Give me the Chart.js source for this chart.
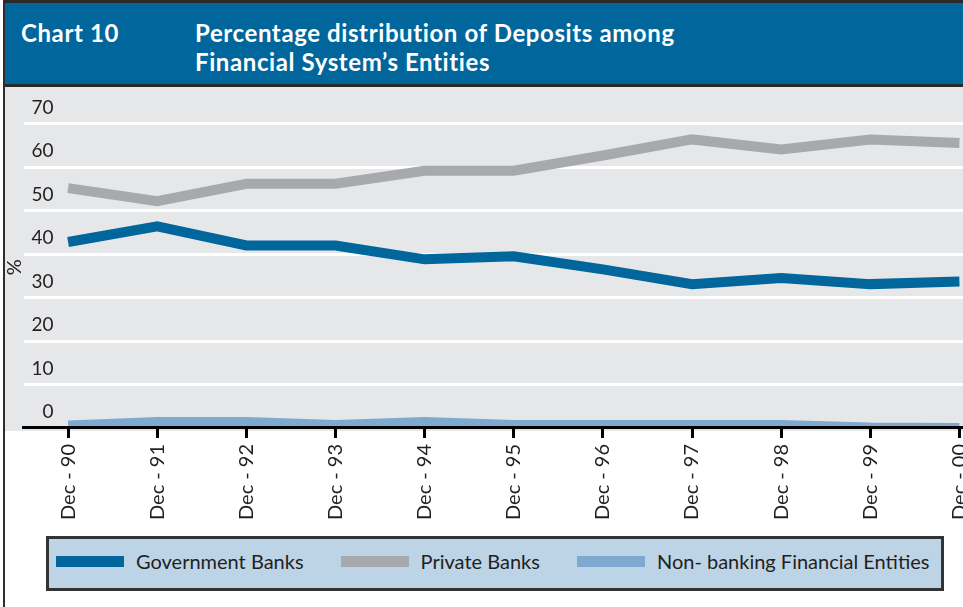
<!DOCTYPE html>
<html>
<head>
<meta charset="utf-8">
<title>Chart 10</title>
<script src="https://cdn.jsdelivr.net/npm/chart.js"></script>
<style>
  body {
    margin: 0;
    width: 963px;
    height: 607px;
    overflow: hidden;
    position: relative;
    background: #fff;
    font-family: Lato, "Open Sans", sans-serif;
  }
  #frame-left {
    position: absolute;
    left: 3px;
    top: 0;
    width: 2px;
    height: 607px;
    background: #2d2d2d;
    z-index: 5;
  }
  #header {
    position: absolute;
    left: 3px;
    top: 0;
    width: 975px;
    height: 81px;
    background: #00669b;
    border-top: 3px solid #2a2a2a;
    border-bottom: 3px solid #2a2a2a;
    color: #fff;
    font-weight: 700;
    font-size: 24px;
    letter-spacing: 0.6px;
    white-space: nowrap;
  }
  #chart-num {
    position: absolute;
    left: 18px;
    top: 15px;
    line-height: 29px;
  }
  #chart-title {
    position: absolute;
    left: 192px;
    top: 15px;
    line-height: 29px;
  }
  #chart-wrap {
    position: absolute;
    left: 3px;
    top: 87px;
    width: 1001px;
    height: 439px;
  }
  #legend {
    position: absolute;
    left: 46px;
    top: 536px;
    width: 898px;
    height: 55px;
    box-sizing: border-box;
    border: 3px solid #333;
    background: #bdd4e7;
    display: flex;
    align-items: center;
    padding-left: 7px;
    padding-bottom: 5px;
    font-size: 20px;
    color: #231f20;
    white-space: nowrap;
  }
  .legend-item {
    display: flex;
    align-items: center;
    flex-shrink: 0;
    margin-right: 37px;
  }
  .legend-swatch {
    width: 68px;
    height: 11px;
    margin-right: 12px;
  }
</style>
</head>
<body>
<div id="frame-left"></div>
<div id="header">
  <div id="chart-num">Chart 10</div>
  <div id="chart-title">Percentage distribution of Deposits among<br>Financial System’s Entities</div>
</div>
<div id="chart-wrap"><canvas id="chart"></canvas></div>
<div id="legend"></div>

<script>
'use strict';

// data, in % of total deposits

let periods = ['Dec - 90', 'Dec - 91', 'Dec - 92', 'Dec - 93', 'Dec - 94', 'Dec - 95',
  'Dec - 96', 'Dec - 97', 'Dec - 98', 'Dec - 99', 'Dec - 00'];

let governmentBanks = [42.8, 46.4, 42.0, 42.0, 38.8, 39.5, 36.5, 33.1, 34.5, 33.1, 33.7];
let privateBanks = [55.2, 52.2, 56.2, 56.2, 59.2, 59.2, 62.7, 66.4, 64.1, 66.4, 65.6];
let nonBanking = [0.7, 1.5, 1.5, 0.8, 1.5, 0.8, 0.8, 0.8, 0.8, 0.2, 0.1];

let yTicks = [0, 10, 20, 30, 40, 50, 60, 70];

let seriesNames = ['Government Banks', 'Private Banks', 'Non- banking Financial Entities'];
let seriesColors = ['#00669b', '#a7a9ac', '#7eaad1'];

let canvasElem = document.getElementById('chart');
let legendElem = document.getElementById('legend');

// grey panel behind the plot, stops just under the x axis

let plotBackground = {
  id: 'plotBackground',
  beforeDraw(chart) {
    let ctx = chart.ctx;
    ctx.save();
    ctx.fillStyle = '#e6e7e9';
    ctx.fillRect(0, 0, chart.width, chart.chartArea.bottom + 3);
    ctx.restore();
  }
};

function makeDataset(i, values, width) {
  return {
    label: seriesNames[i],
    data: values,
    borderColor: seriesColors[i],
    backgroundColor: seriesColors[i],
    borderWidth: width,
    borderCapStyle: 'butt',
    pointRadius: 0,
    pointHoverRadius: 0,
    tension: 0,
    fill: false
  };
}

let chartObj = {
  type: 'line',
  data: {
    labels: periods,
    datasets: [
      makeDataset(2, nonBanking, 9),
      makeDataset(0, governmentBanks, 10),
      makeDataset(1, privateBanks, 10)
    ]
  },
  options: {
    responsive: true,
    maintainAspectRatio: false,
    animation: false,
    layout: { padding: 0 },
    plugins: {
      legend: { display: false },
      tooltip: { enabled: false }
    },
    scales: {
      x: {
        offset: true,
        border: { color: '#000', width: 3, z: 1 },
        grid: {
          z: 1,
          offset: false,
          drawOnChartArea: false,
          drawTicks: true,
          tickLength: 10,
          tickWidth: 3,
          tickColor: '#000'
        },
        ticks: {
          autoSkip: false,
          minRotation: 90,
          maxRotation: 90,
          padding: 6,
          color: '#231f20',
          font: { family: 'Lato', size: 20 }
        }
      },
      y: {
        min: 0,
        max: 74,
        afterBuildTicks: (scale) => {
          scale.ticks = yTicks.map((v) => ({ value: v }));
        },
        afterFit: (scale) => {
          scale.width = 20.5;
        },
        border: { display: false },
        grid: {
          drawTicks: false,
          lineWidth: 3,
          color: (ctx) => (ctx.tick && ctx.tick.value === 0 ? 'rgba(0,0,0,0)' : '#fff')
        },
        ticks: {
          mirror: true,
          crossAlign: 'far',
          padding: 8,
          labelOffset: -16,
          color: '#231f20',
          font: { family: 'Lato', size: 19 }
        },
        title: {
          display: true,
          text: '%',
          color: '#231f20',
          padding: 0,
          font: { family: 'Lato', size: 20 }
        }
      }
    }
  },
  plugins: [plotBackground]
};

new Chart(canvasElem, chartObj);

// legend under the chart

for (let i = 0; i < seriesNames.length; i++) {
  let item = document.createElement('div');
  item.className = 'legend-item';
  let swatch = document.createElement('div');
  swatch.className = 'legend-swatch';
  swatch.style.background = seriesColors[i];
  let text = document.createElement('span');
  text.textContent = seriesNames[i];
  item.appendChild(swatch);
  item.appendChild(text);
  legendElem.appendChild(item);
}
</script>
</body>
</html>
